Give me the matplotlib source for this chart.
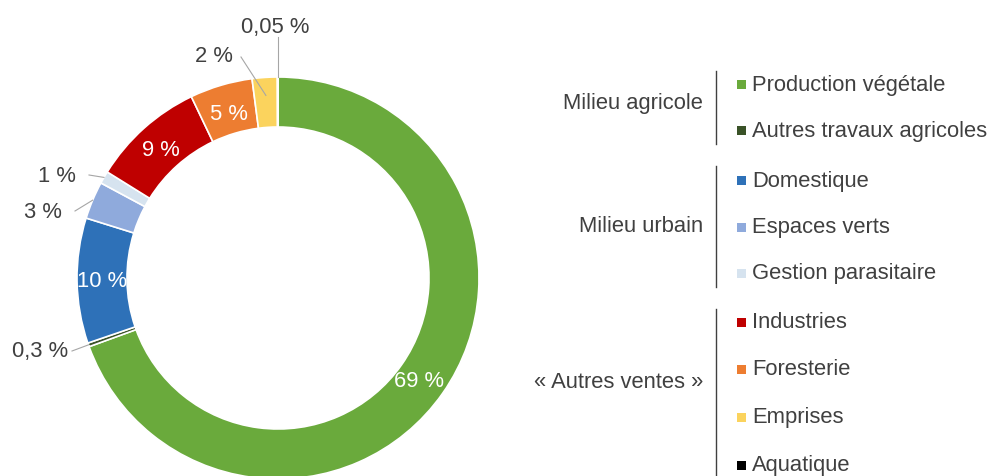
import numpy as np
import matplotlib.pyplot as plt
from matplotlib.patches import Rectangle

plt.rcParams['font.family'] = ['Liberation Sans', 'DejaVu Sans']

categories = ["Production végétale", "Autres travaux agricoles", "Domestique",
              "Espaces verts", "Gestion parasitaire", "Industries",
              "Foresterie", "Emprises", "Aquatique"]
values = [69, 0.3, 10, 3, 1, 9, 5, 2, 0.05]
value_labels = ["69 %", "0,3 %", "10 %", "3 %", "1 %", "9 %", "5 %", "2 %", "0,05 %"]
colors = ["#6aaa3c", "#3a5228", "#2e71b8", "#8faadc", "#d6e3ef", "#bf0000",
          "#ed7d31", "#fbd35d", "#000000"]
groups = ["Milieu agricole", "Milieu urbain", "« Autres ventes »"]
group_members = [[0, 1], [2, 3, 4], [5, 6, 7, 8]]

W, H = 995, 477
fig = plt.figure(figsize=(W / 100, H / 100), dpi=100)
ax = fig.add_axes([0, 0, 1, 1])
cx, cy = 278, H - 279
R = 201
width = 50

wedges, _ = ax.pie(values, colors=colors, startangle=90, counterclock=False,
                   radius=R, center=(cx, cy),
                   wedgeprops=dict(width=width, edgecolor='white', linewidth=1.2),
                   frame=True)
ax.set_xlim(0, W)
ax.set_ylim(0, H)
ax.set_aspect('equal')
ax.axis('off')

txtcol = '#404040'
fs = 15.8

def mid(w):
    a = np.deg2rad((w.theta1 + w.theta2) / 2)
    return np.cos(a), np.sin(a)

# inside labels (white)
inside = {0: (0, -4), 2: (-4, 0), 5: (-2, 0), 6: (0, 0)}
for i, (dx, dy) in inside.items():
    c, s = mid(wedges[i])
    r = R - width / 2 - 4
    ax.text(cx + r * c + dx, cy + r * s + dy, value_labels[i], color='white',
            fontsize=fs, ha='center', va='center')

# outside labels with leader lines: (label x px, label y px, anchor radius)
outside = {1: (40, 352, R), 3: (43, 212, R), 4: (57, 176, R),
           7: (214, 57, R - 18), 8: (275, 27, R)}
for i, (lx, ly, ar) in outside.items():
    c, s = mid(wedges[i])
    axp, ayp = cx + ar * c, cy + ar * s
    ly_d = H - ly
    if i == 8:
        ax.plot([axp, axp], [cy + R, ly_d - 11], color='#a6a6a6', lw=0.8)
    elif i == 7:
        ax.plot([lx + 27, axp], [ly_d - 1, ayp], color='#a6a6a6', lw=0.8)
    else:
        ax.plot([lx + 32, axp], [ly_d, ayp], color='#a6a6a6', lw=0.8)
    ax.text(lx, ly_d, value_labels[i], color=txtcol, fontsize=fs,
            ha='center', va='center')

# legend
row_y = [85, 131, 181, 228, 274, 323, 370, 418, 466]
group_y = [103, 227, 383]
line_spans = [(72, 145), (167, 288), (310, 477)]
for g, name in enumerate(groups):
    ax.text(703, H - group_y[g], name, color=txtcol, fontsize=fs,
            ha='right', va='center')
    y0, y1 = line_spans[g]
    ax.plot([716, 716], [H - y0, H - y1], color='#404040', lw=1.0, clip_on=False)
    for i in group_members[g]:
        yy = H - row_y[i]
        ax.add_patch(Rectangle((737, yy - 4.5), 9, 9, color=colors[i], lw=0))
        ax.text(752, yy, categories[i], color=txtcol, fontsize=fs,
                ha='left', va='center')

fig.savefig('out.png', dpi=100, facecolor='white')
